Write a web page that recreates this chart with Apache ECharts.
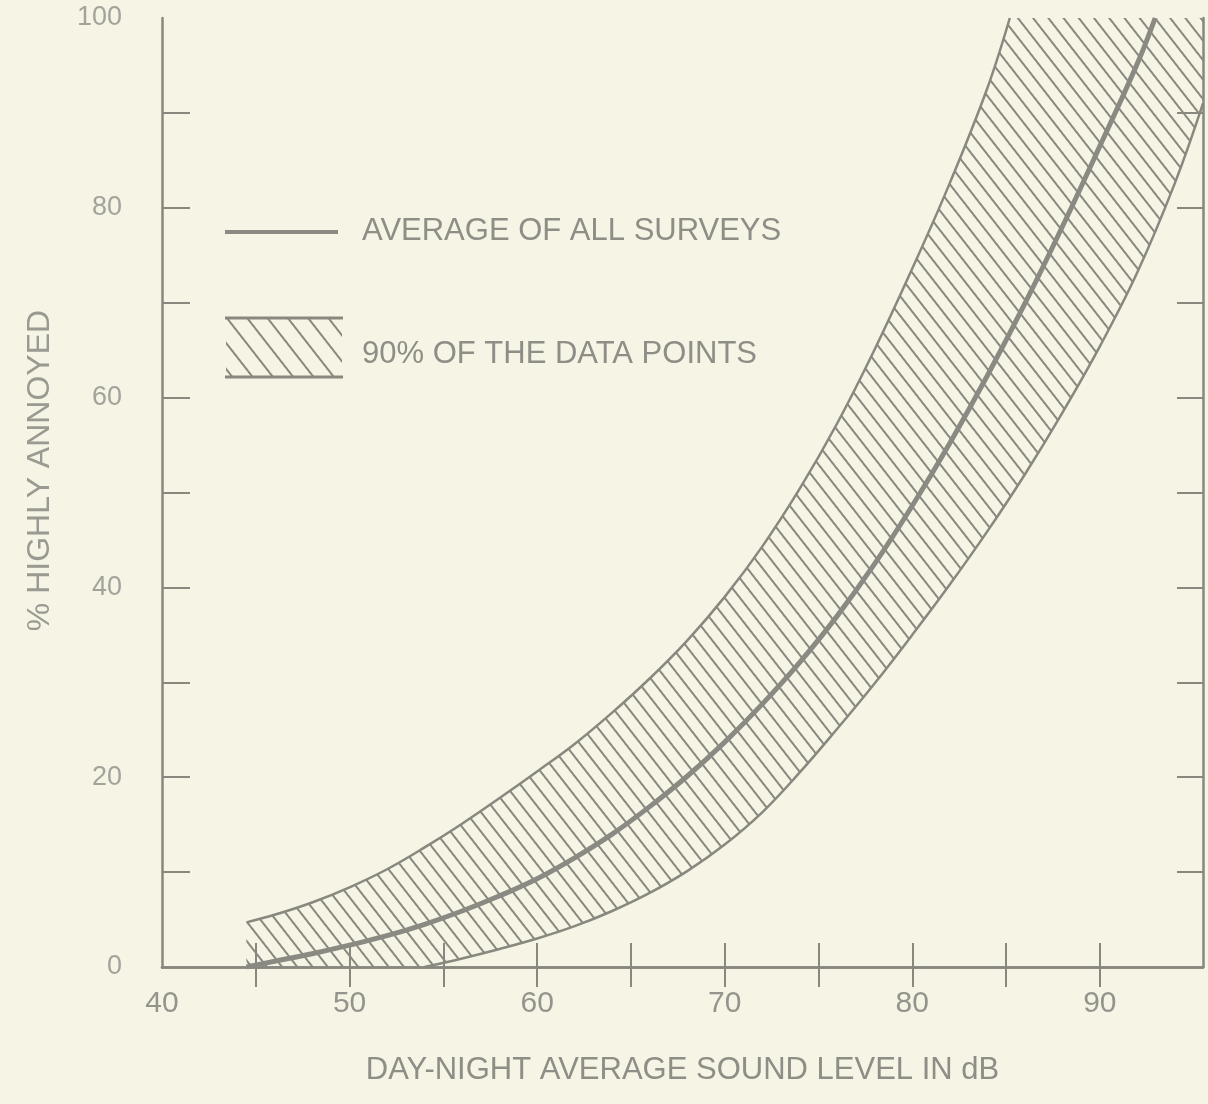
<!DOCTYPE html>
<html>
<head>
<meta charset="utf-8">
<script src="https://cdn.jsdelivr.net/npm/echarts@6/dist/echarts.min.js"></script>
<style>
html, body { margin: 0; padding: 0; background: #f6f4e5; }
#chart { width: 1208px; height: 1104px; }
</style>
</head>
<body>
<div id="chart"></div>
<script>
// values (dB, % highly annoyed)
const averageCurve = [
  [44.5, 0], [46, 0.6], [48, 1.4], [50, 2.3], [52, 3.3], [54, 4.5], [56, 5.9],
  [58, 7.5], [60, 9.3], [62, 11.5], [64, 14.0], [66, 16.9], [68, 20.1], [70, 23.7],
  [72, 27.7], [74, 32.1], [76, 37.0], [78, 42.5], [80, 48.6], [82, 55.2], [84, 62.3],
  [86, 69.9], [88, 78.0], [90, 86.5], [92, 95.2], [92.95, 100]
];
const upperBound = [
  [44.5, 4.7], [46, 5.5], [48, 6.8], [50, 8.4], [52, 10.3], [54, 12.6], [56, 15.1],
  [58, 17.8], [60, 20.6], [62, 23.5], [64, 26.8], [66, 30.4], [68, 34.4], [70, 39.0],
  [72, 44.3], [74, 50.4], [76, 57.3], [78, 65.1], [80, 73.6], [82, 82.6], [84, 92.6],
  [85.2, 100]
];
const lowerBound = [
  [54, 0], [56, 0.9], [58, 1.9], [60, 3.0], [62, 4.3], [64, 5.9], [66, 7.8],
  [68, 10.1], [70, 12.9], [72, 16.3], [74, 20.5], [76, 25.1], [78, 29.9], [80, 35.0],
  [82, 40.3], [84, 45.9], [86, 51.9], [88, 58.4], [90, 65.4], [92, 73.2], [94, 82.6],
  [95.5, 91.0]
];
const xTickValues = [45, 50, 55, 60, 65, 70, 75, 80, 85, 90];
const xLabelValues = [40, 50, 60, 70, 80, 90];
const yTickValues = [10, 20, 30, 40, 50, 60, 70, 80, 90];
const yLabelValues = [0, 20, 40, 60, 80, 100];

const xMin = 40, xMax = 95.5;
const ink = '#88887f';
const font = "'Liberation Sans', Arial, sans-serif";

// hatch tile: one horizontal stroke, rotated by the pattern
function hatchTile(gap) {
  const c = document.createElement('canvas');
  c.width = 8; c.height = gap;
  const ctx = c.getContext('2d');
  ctx.fillStyle = ink;
  ctx.fillRect(0, 0, 8, 2);
  return c;
}
const hatch = { image: hatchTile(12), repeat: 'repeat', rotation: 52 * Math.PI / 180 };
const legendHatch = { image: hatchTile(16), repeat: 'repeat', rotation: 52 * Math.PI / 180 };

const chart = echarts.init(document.getElementById('chart'));

const option = {
  backgroundColor: '#f6f4e5',
  animation: false,
  grid: { left: 162, right: 5, top: 18, bottom: 137 },
  xAxis: [
    {
      type: 'value', min: xMin, max: xMax, position: 'bottom',
      name: 'DAY-NIGHT AVERAGE SOUND LEVEL IN dB',
      nameLocation: 'middle', nameGap: 88,
      nameTextStyle: { fontFamily: font, fontSize: 31, color: '#8e8e87' },
      axisLine: { show: true, lineStyle: { color: ink, width: 2.5 } },
      axisTick: { show: true, inside: true, length: 24, customValues: xTickValues, lineStyle: { color: ink, width: 2 } },
      axisLabel: { customValues: xLabelValues, margin: 22, fontFamily: font, fontSize: 30, color: '#94948d' },
      splitLine: { show: false }
    },
    {
      type: 'value', min: xMin, max: xMax, position: 'top',
      axisLine: { show: true, lineStyle: { color: ink, width: 2.5 } },
      axisTick: { show: true, inside: true, length: 20, customValues: xTickValues, lineStyle: { color: ink, width: 2 } },
      axisLabel: { show: false },
      splitLine: { show: false }
    }
  ],
  yAxis: [
    {
      type: 'value', min: 0, max: 100, position: 'left',
      name: '% HIGHLY ANNOYED',
      nameLocation: 'middle', nameGap: 106,
      nameTextStyle: { fontFamily: font, fontSize: 32, color: '#9a9a93', padding: [0, 0, 0, 44] },
      axisLine: { show: true, lineStyle: { color: ink, width: 2.5 } },
      axisTick: { show: true, inside: true, length: 28, customValues: yTickValues, lineStyle: { color: ink, width: 2 } },
      axisLabel: { customValues: yLabelValues, margin: 40, fontFamily: font, fontSize: 27, color: '#a3a39c' },
      splitLine: { show: false }
    },
    {
      type: 'value', min: 0, max: 100, position: 'right',
      axisLine: { show: true, lineStyle: { color: ink, width: 2.5 } },
      axisTick: { show: true, inside: true, length: 26, customValues: yTickValues, lineStyle: { color: ink, width: 2 } },
      axisLabel: { show: false },
      splitLine: { show: false }
    }
  ],
  series: [
    {
      name: '90% OF THE DATA POINTS',
      type: 'custom',
      xAxisIndex: 0, yAxisIndex: 0,
      silent: true,
      z: 1,
      data: [[xMin, 0]],
      renderItem: function (params, api) {
        let pts = upperBound.map(p => api.coord(p));
        pts.push(api.coord([xMax, 100]));
        for (let i = lowerBound.length - 1; i >= 0; i--) {
          pts.push(api.coord(lowerBound[i]));
        }
        pts.push(api.coord([upperBound[0][0], 0]));
        return {
          type: 'polygon',
          shape: { points: pts },
          style: { fill: hatch, stroke: null }
        };
      }
    },
    {
      type: 'line', data: upperBound, smooth: 0.4, symbol: 'none', z: 3,
      lineStyle: { color: ink, width: 2.5 }
    },
    {
      type: 'line', data: lowerBound, smooth: 0.4, symbol: 'none', z: 3,
      lineStyle: { color: ink, width: 2.5 }
    },
    {
      name: 'AVERAGE OF ALL SURVEYS',
      type: 'line', data: averageCurve, smooth: 0.4, symbol: 'none', z: 4,
      lineStyle: { color: '#8a8a83', width: 5 }
    }
  ],
  // hand-made key inside the plot
  graphic: [
    { type: 'line', shape: { x1: 225, y1: 232, x2: 338, y2: 232 }, style: { stroke: '#8a8a83', lineWidth: 4 } },
    { type: 'text', left: 362, top: 216, style: { text: 'AVERAGE OF ALL SURVEYS', font: '31px ' + font, fill: '#8e8e87' } },
    { type: 'rect', shape: { x: 226, y: 319, width: 116, height: 57 }, style: { fill: legendHatch } },
    { type: 'line', shape: { x1: 225, y1: 318, x2: 343, y2: 318 }, style: { stroke: ink, lineWidth: 3 } },
    { type: 'line', shape: { x1: 225, y1: 377, x2: 343, y2: 377 }, style: { stroke: ink, lineWidth: 3 } },
    { type: 'text', left: 362, top: 339, style: { text: '90% OF THE DATA POINTS', font: '31px ' + font, fill: '#8e8e87' } }
  ]
};

chart.setOption(option);
</script>
</body>
</html>
